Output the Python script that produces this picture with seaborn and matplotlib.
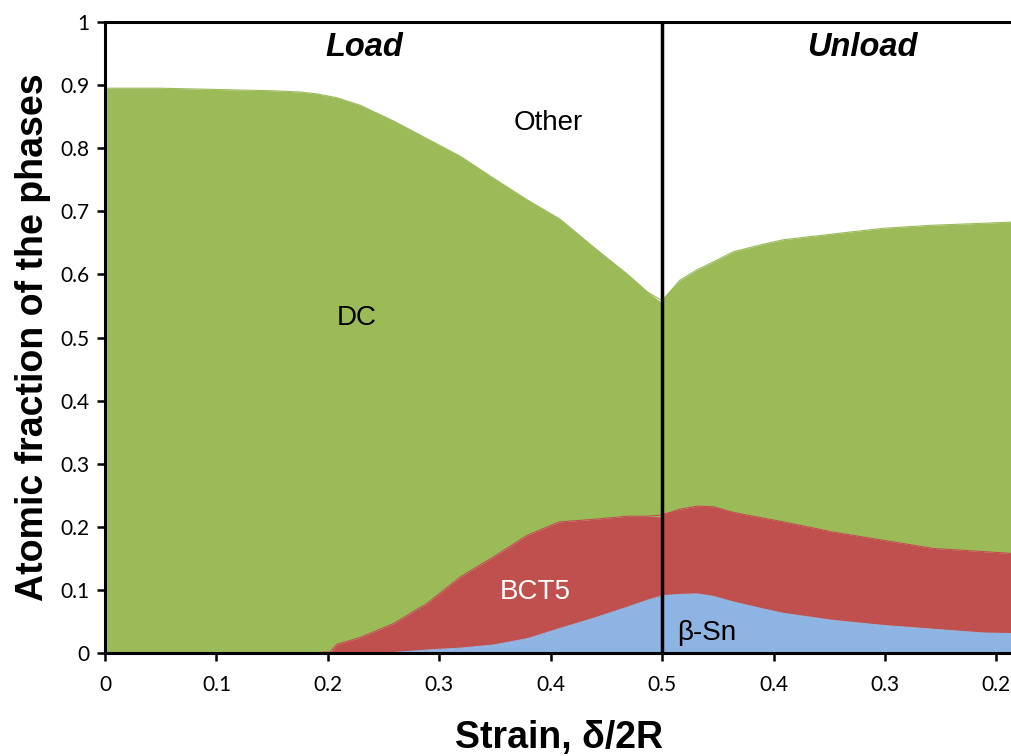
import numpy as np
import pandas as pd
import matplotlib
matplotlib.use("Agg")
import matplotlib.pyplot as plt
import seaborn as sns

# ---- data ----
load_strain = [0, 0.05, 0.1, 0.15, 0.175, 0.19, 0.202, 0.208, 0.229, 0.259,
               0.289, 0.319, 0.349, 0.379, 0.408, 0.438, 0.469, 0.487, 0.5]
load_beta_sn = [0, 0, 0, 0, 0, 0, 0, 0, 0, 0.001, 0.005, 0.008, 0.013, 0.023,
                0.039, 0.055, 0.073, 0.084, 0.090]
load_bct5 = [0, 0, 0, 0, 0, 0.001, 0.002, 0.014, 0.025, 0.046, 0.074, 0.113,
             0.140, 0.164, 0.169, 0.157, 0.144, 0.133, 0.126]
load_dc = [0.895, 0.895, 0.893, 0.891, 0.889, 0.885, 0.880, 0.866, 0.843,
           0.796, 0.736, 0.666, 0.599, 0.531, 0.480, 0.432, 0.383, 0.355, 0.339]

unload_strain = [0.5, 0.484, 0.469, 0.454, 0.436, 0.409, 0.391, 0.347, 0.302,
                 0.257, 0.212, 0.186]
unload_beta_sn = [0.092, 0.093, 0.094, 0.090, 0.081, 0.070, 0.063, 0.052, 0.044,
                  0.038, 0.032, 0.031]
unload_bct5 = [0.130, 0.135, 0.139, 0.142, 0.142, 0.144, 0.145, 0.140, 0.135,
               0.128, 0.129, 0.127]
unload_dc = [0.340, 0.363, 0.374, 0.388, 0.413, 0.434, 0.447, 0.472, 0.494,
             0.512, 0.520, 0.525]

x_tick_labels = ["0", "0.1", "0.2", "0.3", "0.4", "0.5", "0.4", "0.3", "0.2"]
y_tick_labels = ["0", "0.1", "0.2", "0.3", "0.4", "0.5", "0.6", "0.7", "0.8", "0.9", "1"]

# path coordinate: load strain, then unload mirrored after 0.5
pos = np.concatenate([np.array(load_strain), 1.0 - np.array(unload_strain)])
beta = np.concatenate([load_beta_sn, unload_beta_sn])
bct = np.concatenate([load_bct5, unload_bct5])
dc = np.concatenate([load_dc, unload_dc])

df = pd.DataFrame({"pos": pos, "beta": beta, "bct": bct, "dc": dc})
df["top_beta"] = df["beta"]
df["top_bct"] = df["beta"] + df["bct"]
df["top_dc"] = df["top_bct"] + df["dc"]

sns.set_theme(style="white")
plt.rcParams["font.family"] = ["Liberation Sans", "DejaVu Sans"]
plt.rcParams["text.color"] = "black"
plt.rcParams["axes.labelcolor"] = "black"

c_dc = "#9BBB59"
c_bct = "#C0504D"
c_beta = "#8DB4E2"

fig = plt.figure(figsize=(10.12, 7.56), dpi=100)
ax = fig.add_axes([0.1038, 0.136, 0.8962, 0.835])

ax.fill_between(df["pos"], df["top_bct"], df["top_dc"], color=c_dc, lw=0)
ax.fill_between(df["pos"], df["top_beta"], df["top_bct"], color=c_bct, lw=0)
ax.fill_between(df["pos"], 0, df["top_beta"], color=c_beta, lw=0)
sns.lineplot(data=df, x="pos", y="top_dc", ax=ax, color=c_dc, lw=0.8, sort=False)
sns.lineplot(data=df, x="pos", y="top_bct", ax=ax, color=c_bct, lw=0.8, sort=False)
sns.lineplot(data=df, x="pos", y="top_beta", ax=ax, color=c_beta, lw=0.8, sort=False)

ax.axvline(0.5, color="black", lw=2.5, zorder=5)

ax.set_xlim(0, 0.814)
ax.set_ylim(0, 1)
ax.set_xticks(np.arange(len(x_tick_labels)) * 0.1)
ax.set_xticklabels(x_tick_labels)
ax.set_yticks(np.arange(len(y_tick_labels)) * 0.1)
ax.set_yticklabels(y_tick_labels)

for s in ["left", "top", "bottom"]:
    ax.spines[s].set_color("black")
    ax.spines[s].set_linewidth(2.2)
ax.spines["right"].set_visible(False)

ax.tick_params(axis="both", direction="out", length=6, width=1.8, color="black",
               labelsize=15, labelcolor="black", bottom=True, left=True)
ax.tick_params(axis="x", pad=10)
ax.tick_params(axis="y", pad=5)
for lab in ax.get_xticklabels() + ax.get_yticklabels():
    lab.set_family(["Lato", "DejaVu Sans"])

ax.set_xlabel("Strain, δ/2R", fontsize=27, fontweight="bold", labelpad=18,
              color="black")
ax.set_ylabel("Atomic fraction of the phases", fontsize=27, fontweight="bold",
              labelpad=7, color="black")

ax.text(0.233, 0.959, "Load", fontsize=23.5, fontweight="bold", fontstyle="italic",
        ha="center", va="center", color="black")
ax.text(0.68, 0.959, "Unload", fontsize=23.5, fontweight="bold", fontstyle="italic",
        ha="center", va="center", color="black")
ax.text(0.398, 0.84, "Other", fontsize=20, ha="center", va="center", color="black")
ax.text(0.226, 0.531, "DC", fontsize=20, ha="center", va="center", color="black")
ax.text(0.386, 0.097, "BCT5", fontsize=20, ha="center", va="center", color="white")
ax.text(0.54, 0.032, "β-Sn", fontsize=20, ha="center", va="center", color="black")

fig.savefig("out.png", dpi=100)
